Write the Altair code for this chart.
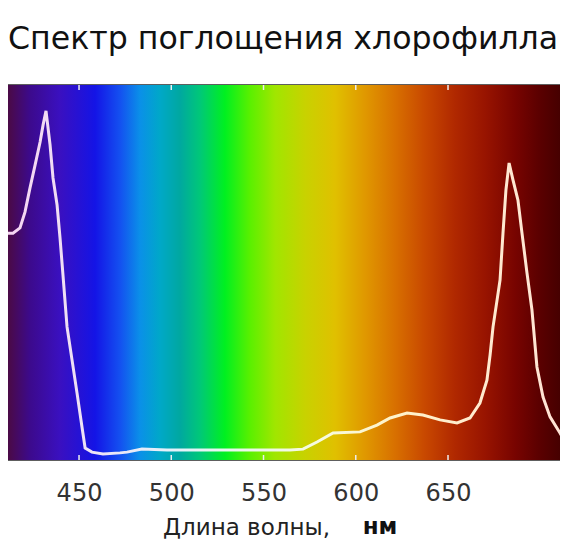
import altair as alt
import pandas as pd

# ---- data ----
wavelength = [411.5, 414.2, 418.0, 420.7, 423.4, 426.2, 428.9, 430.5, 432.1, 434.3,
              435.9, 438.1, 439.7, 441.3, 443.5, 446.2, 448.9, 451.6, 453.3, 457.0,
              463.0, 472.2, 476.0, 484.1, 497.7, 531.8, 564.4, 571.4, 579.0, 587.7,
              602.3, 611.5, 618.6, 627.8, 636.4, 645.7, 654.9, 661.9, 667.3, 671.1,
              672.8, 674.4, 676.6, 678.2, 679.8, 681.4, 683.1, 685.2, 687.9, 690.1,
              692.8, 695.5, 698.2, 701.5, 705.3, 710.7, 715.0]
absorbance = [0.605, 0.605, 0.619, 0.661, 0.725, 0.787, 0.848, 0.893, 0.931, 0.840,
              0.752, 0.680, 0.592, 0.493, 0.355, 0.267, 0.179, 0.088, 0.032, 0.021,
              0.016, 0.019, 0.021, 0.029, 0.027, 0.027, 0.027, 0.029, 0.048, 0.072,
              0.075, 0.093, 0.112, 0.125, 0.120, 0.107, 0.099, 0.112, 0.152, 0.213,
              0.280, 0.355, 0.427, 0.480, 0.605, 0.720, 0.792, 0.747, 0.693, 0.605,
              0.499, 0.400, 0.248, 0.168, 0.115, 0.072, 0.035]

tick_values = [450, 500, 550, 600, 650]
x_domain = [411.5, 710.7]

# background spectrum colours (wavelength -> colour)
spectrum_wl = [411.5, 423.4, 439.7, 458.7, 472.2, 483.1, 493.9, 504.7, 515.6, 529.1,
               542.7, 556.2, 572.5, 588.8, 605.0, 621.3, 637.5, 653.8, 670.1, 686.3,
               699.9, 710.7]
spectrum_col = ["#4b0a45", "#3c0a8c", "#3a10c0", "#1414e6", "#1450f0", "#0a90e8",
                "#00a8c8", "#00a8a0", "#00c878", "#00f020", "#5af000", "#a0e600",
                "#c8d200", "#e0c000", "#e09800", "#d87000", "#c84800", "#b02800",
                "#981400", "#780400", "#5a0000", "#460000"]

title_text = "Спектр поглощения хлорофилла"
x_title = "Длина волны,"
unit_text = "нм"

# ---- build ----
W, H = 552, 375
span = x_domain[1] - x_domain[0]
stops = [alt.GradientStop(offset=(w - x_domain[0]) / span, color=c)
         for w, c in zip(spectrum_wl, spectrum_col)]
bg_gradient = alt.LinearGradient(gradient="linear", stops=stops, x1=0, x2=1, y1=0, y2=0)

line_gradient = alt.LinearGradient(
    gradient="linear",
    stops=[alt.GradientStop(offset=0, color="#f6d4f2"),
           alt.GradientStop(offset=0.3, color="#e4f2fa"),
           alt.GradientStop(offset=0.55, color="#f6fbe0"),
           alt.GradientStop(offset=0.7, color="#fff2c8"),
           alt.GradientStop(offset=1, color="#ffe2d6")],
    x1=0, x2=1, y1=0, y2=0)

xscale = alt.Scale(domain=x_domain, nice=False, zero=False)

curve = pd.DataFrame({"wl": wavelength, "a": absorbance})
ticks = pd.DataFrame({"wl": tick_values})
band = pd.DataFrame({"lo": [x_domain[0]], "hi": [x_domain[1]]})

bg = alt.Chart(band).mark_rect(fill=bg_gradient).encode(
    x=alt.X("lo:Q", scale=xscale,
            axis=alt.Axis(values=tick_values, title=x_title, grid=False, ticks=False,
                          tickSize=0, domain=False, labelFont="DejaVu Sans",
                          labelFontSize=24, labelColor="#333333", labelPadding=40,
                          labelBaseline="alphabetic", labelFlush=False,
                          titleFont="DejaVu Sans", titleFontSize=23,
                          titleFontWeight="normal", titleColor="#222222",
                          titleX=238, titleY=74, titleBaseline="alphabetic",
                          titleAlign="center")),
    x2="hi:Q",
    y=alt.value(0),
    y2=alt.value(H),
)

top_ticks = alt.Chart(ticks).mark_rule(color="#eeeeee", strokeWidth=1.5).encode(
    x=alt.X("wl:Q", scale=xscale), y=alt.value(0), y2=alt.value(5))
bottom_ticks = alt.Chart(ticks).mark_rule(color="#eeeeee", strokeWidth=1.5).encode(
    x=alt.X("wl:Q", scale=xscale), y=alt.value(H - 5), y2=alt.value(H))

line = alt.Chart(curve).mark_line(stroke=line_gradient, strokeWidth=3, clip=True).encode(
    x=alt.X("wl:Q", scale=xscale),
    y=alt.Y("a:Q", scale=alt.Scale(domain=[0, 1], nice=False, zero=True), axis=None),
)

unit = alt.Chart(pd.DataFrame({"t": [unit_text]})).mark_text(
    font="DejaVu Sans", fontSize=23, fontWeight="bold", color="#111111",
    align="center", baseline="alphabetic").encode(
    text="t:N", x=alt.value(372), y=alt.value(H + 74))

chart = alt.layer(bg, top_ticks, bottom_ticks, line, unit).properties(
    width=W, height=H,
    title=alt.TitleParams(title_text, anchor="start", frame="group",
                          font="DejaVu Sans", fontSize=31.6, fontWeight="normal",
                          color="#111111", baseline="alphabetic", offset=4, dx=0),
    background="white",
    padding={"left": 0, "top": 77, "right": 0, "bottom": 82},
    autosize=alt.AutoSizeParams(type="none"),
).configure_view(stroke="#2a2a2a", strokeWidth=1.5)

chart.save("out.html", embed_options={"renderer": "svg", "actions": False})
